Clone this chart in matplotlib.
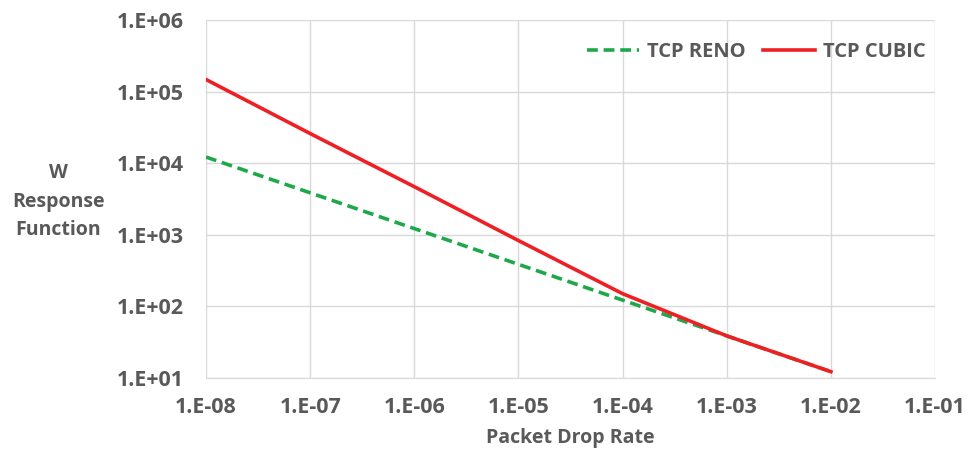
import matplotlib.pyplot as plt

drop_rate = [1e-8, 1e-7, 1e-6, 1e-5, 1e-4, 1e-3, 1e-2]
reno = [12200, 3860, 1220, 386, 122, 38.6, 12.2]
cubic = [148000, 26000, 4700, 830, 150, 38.6, 12.2]

x_ticks = [1e-8, 1e-7, 1e-6, 1e-5, 1e-4, 1e-3, 1e-2, 1e-1]
x_labels = ["1.E-08", "1.E-07", "1.E-06", "1.E-05", "1.E-04", "1.E-03", "1.E-02", "1.E-01"]
y_ticks = [1e1, 1e2, 1e3, 1e4, 1e5, 1e6]
y_labels = ["1.E+01", "1.E+02", "1.E+03", "1.E+04", "1.E+05", "1.E+06"]

plt.rcParams["font.family"] = ["Open Sans", "DejaVu Sans"]
plt.rcParams["font.weight"] = "bold"
text_color = "#595959"
fsize = 14
tick_size = 15.5

fig = plt.figure(figsize=(9.69, 4.58), dpi=100)
ax = fig.add_axes([0.2126, 0.175, 0.7524, 0.781])

ax.plot(drop_rate, reno, color="#1fa84a", linestyle=(0, (3, 1.6)), linewidth=2.6, label="TCP RENO")
ax.plot(drop_rate, cubic, color="#ee2024", linewidth=2.6, label="TCP CUBIC")

ax.set_xscale("log")
ax.set_yscale("log")
ax.set_xlim(1e-8, 1e-1)
ax.set_ylim(1e1, 1e6)
ax.set_xticks(x_ticks)
ax.set_xticklabels(x_labels)
ax.set_yticks(y_ticks)
ax.set_yticklabels(y_labels)
ax.minorticks_off()
ax.tick_params(axis="x", length=0, labelsize=tick_size, labelcolor=text_color, pad=14)
ax.tick_params(axis="y", length=0, labelsize=tick_size, labelcolor=text_color, pad=16)

ax.grid(True, color="#d9d9d9", linewidth=1)
ax.set_axisbelow(True)
for side in ["top", "right", "left"]:
    ax.spines[side].set_visible(False)
ax.spines["bottom"].set_color("#d9d9d9")

ax.set_xlabel("Packet Drop Rate", fontsize=fsize, color=text_color, fontweight="bold", labelpad=7)
fig.text(0.06, 0.56, "W\nResponse\nFunction", ha="center", va="center",
         fontsize=fsize, color=text_color, fontweight="bold", linespacing=1.55)

leg = ax.legend(loc="upper right", bbox_to_anchor=(1.012, 0.99), ncol=2, frameon=False,
                fontsize=14.5, handlelength=2.6, handletextpad=0.4, columnspacing=0.85)
for t in leg.get_texts():
    t.set_color(text_color)

plt.savefig("out.png")
